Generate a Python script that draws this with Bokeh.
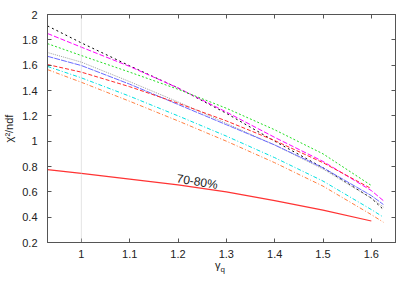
from bokeh.plotting import figure
from bokeh.models import Range1d, LinearAxis, FixedTicker, CustomJSTickFormatter, Span, Label, Div
from bokeh.layouts import column
from bokeh.embed import file_html
from bokeh.resources import INLINE

# ---- data ----
x_long = [0.93, 1.0, 1.1, 1.2, 1.3, 1.4, 1.5, 1.6, 1.625]
x_short = [0.93, 1.0, 1.1, 1.2, 1.3, 1.4, 1.5, 1.6]

black_y   = [1.91, 1.776, 1.595, 1.42, 1.22, 1.00, 0.79, 0.55, 0.46]
magenta_y = [1.85, 1.742, 1.59, 1.42, 1.23, 1.03, 0.84, 0.61, 0.53]
green_y   = [1.77, 1.676, 1.545, 1.41, 1.26, 1.09, 0.90, 0.65]
gray_y    = [1.70, 1.624, 1.47, 1.31, 1.14, 0.97, 0.78, 0.55, 0.48]
blue_y    = [1.67, 1.597, 1.45, 1.29, 1.13, 0.97, 0.79, 0.57, 0.50]
red_dash_y = [1.605, 1.545, 1.43, 1.30, 1.16, 1.005, 0.83, 0.625]
cyan_y    = [1.59, 1.50, 1.355, 1.20, 1.04, 0.87, 0.685, 0.46, 0.40]
orange_y  = [1.565, 1.465, 1.315, 1.16, 1.00, 0.83, 0.645, 0.42, 0.36]
red_solid_y = [0.775, 0.745, 0.70, 0.655, 0.60, 0.53, 0.455, 0.37]

x_ticks = [1.0, 1.1, 1.2, 1.3, 1.4, 1.5, 1.6]
y_ticks = [0.2, 0.4, 0.6, 0.8, 1.0, 1.2, 1.4, 1.6, 1.8, 2.0]
curve_label = "70-80%"
y_title = "\u03c7\u00b2/ndf"

FONT = "Liberation Sans"
AXC = "#555555"

p = figure(frame_width=348, frame_height=228, min_border_left=46, min_border_right=10,
           min_border_top=14, min_border_bottom=20,
           x_range=Range1d(0.93, 1.65), y_range=Range1d(0.2, 2.0),
           output_backend="svg", toolbar_location=None,
           background_fill_color="white", border_fill_color="white")
p.grid.visible = False
p.outline_line_color = AXC
p.outline_line_width = 1

fmt = CustomJSTickFormatter(code="return tick.toFixed(1).replace(/\\.0$/, '');")
blank = CustomJSTickFormatter(code="return '';")

def style_axis(ax, ticks, labels=True):
    ax.ticker = FixedTicker(ticks=ticks)
    ax.formatter = fmt if labels else blank
    ax.major_tick_in = 4
    ax.major_tick_out = 0
    ax.minor_tick_in = 0
    ax.minor_tick_out = 0
    ax.axis_line_color = AXC
    ax.major_tick_line_color = AXC
    ax.major_label_text_font = FONT
    ax.major_label_text_font_size = "11px"
    ax.major_label_text_color = "#222222"

style_axis(p.xaxis[0], x_ticks)
style_axis(p.yaxis[0], y_ticks)
p.xaxis[0].major_label_standoff = 7
p.yaxis[0].major_label_standoff = 10
p.yaxis[0].axis_label = y_title
p.yaxis[0].axis_label_text_font = FONT
p.yaxis[0].axis_label_text_font_size = "11px"
p.yaxis[0].axis_label_text_font_style = "normal"
p.yaxis[0].axis_label_text_color = "#222222"
p.yaxis[0].axis_label_standoff = 4

top_ax = LinearAxis()
right_ax = LinearAxis()
style_axis(top_ax, x_ticks, labels=False)
style_axis(right_ax, y_ticks, labels=False)
top_ax.major_label_standoff = 0
right_ax.major_label_standoff = 0
p.add_layout(top_ax, "above")
p.add_layout(right_ax, "right")

# vertical reference line at gamma_q = 1
p.add_layout(Span(location=1.0, dimension="height", line_color="#c8c8c8",
                  line_width=1, line_dash="1 1"))

p.line(x_long, black_y, line_color="black", line_width=1, line_dash="2 3")
p.line(x_long, magenta_y, line_color="#ff00ff", line_width=1, line_dash="5 2")
p.line(x_short, green_y, line_color="#22dd22", line_width=1, line_dash="2 2")
p.line(x_long, gray_y, line_color="#a0a0a0", line_width=1, line_dash="1 1")
p.line(x_long, blue_y, line_color="#6a6aff", line_width=1, line_dash="6 1")
p.line(x_short, red_dash_y, line_color="#ff2a2a", line_width=1, line_dash="4 2")
p.line(x_long, cyan_y, line_color="#00e0e0", line_width=1, line_dash="4 2 1 2")
p.line(x_long, orange_y, line_color="#ff7f3f", line_width=1, line_dash="4 2 1 2")
p.line(x_short, red_solid_y, line_color="#ff3333", line_width=1.2)

p.add_layout(Label(x=1.2396, y=0.68, text=curve_label, text_font=FONT,
                   text_font_size="12px", text_color="#222222", angle=-0.16,
                   text_align="center", text_baseline="middle"))

# x-axis title with subscript, as real HTML text
xlab = Div(text=('<div style="position:relative; left:215px; top:-5px; '
                 'font-family:\'Liberation Sans\'; font-size:11px; color:#222222; '
                 'line-height:14px; white-space:nowrap;">'
                 '\u03b3<sub style="font-size:8px;">q</sub></div>'),
           width=404, height=20, margin=(0, 0, 0, 0))

layout = column(p, xlab, spacing=0)

open("out.html", "w").write(file_html(layout, INLINE))
